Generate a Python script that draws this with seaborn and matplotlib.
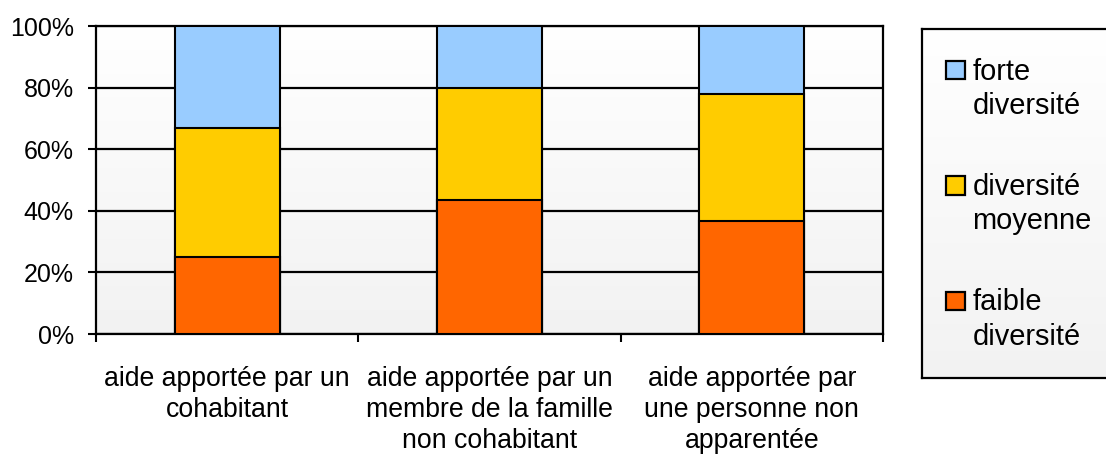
# coding: utf-8
"""
Diversité de l'aide selon le type d'aidant (barres empilées à 100 %)
"""
import numpy as np
import pandas as pd
import matplotlib
matplotlib.use('Agg')
from matplotlib import pyplot as plt
from matplotlib.colors import LinearSegmentedColormap
from matplotlib.patches import Rectangle
import seaborn as sns

# Données
CATEGORIES = ["aide apportée par un\ncohabitant",
              "aide apportée par un\nmembre de la famille\nnon cohabitant",
              "aide apportée par\nune personne non\napparentée"]
NIVEAUX = ["faible diversité", "diversité moyenne", "forte diversité"]
FAIBLE = [25.1, 43.5, 36.6]
MOYENNE = [41.8, 36.5, 41.2]
FORTE = [33.1, 20.0, 22.2]
LEGENDE = {"forte diversité": "forte\ndiversité",
           "diversité moyenne": "diversité\nmoyenne",
           "faible diversité": "faible\ndiversité"}
COULEURS = {"faible diversité": "#ff6600",
            "diversité moyenne": "#ffcc00",
            "forte diversité": "#99ccff"}
YTICKS = [0, 20, 40, 60, 80, 100]

W, H = 1106, 454
FS_XTICK = 19.2
FS_YTICK = 18
FS_LEG = 20.9

sns.set_theme(style='white')
plt.rcParams['font.family'] = ['Liberation Sans', 'DejaVu Sans']
plt.rcParams.update({'text.color': 'black', 'xtick.color': 'black',
                     'ytick.color': 'black', 'axes.labelcolor': 'black'})

df = pd.DataFrame({'categorie': CATEGORIES, NIVEAUX[0]: FAIBLE,
                   NIVEAUX[1]: MOYENNE, NIVEAUX[2]: FORTE})
df_cum = df.set_index('categorie')[NIVEAUX].cumsum(axis=1).reset_index()

fig = plt.figure(figsize=(W / 100, H / 100), dpi=100)
ax = fig.add_axes([96 / W, 1 - 334 / H, (883 - 96) / W, (334 - 26) / H])

degrade = LinearSegmentedColormap.from_list('degrade', ['#ffffff', '#f2f2f2'])
ax.imshow(np.linspace(0, 1, 256).reshape(-1, 1), cmap=degrade, origin='upper',
          extent=(-0.5, 2.5, 0, 100), aspect='auto', zorder=0)

# barres empilées : on trace les cumuls du plus haut au plus bas
for niveau in reversed(NIVEAUX):
    sns.barplot(data=df_cum, x='categorie', y=niveau, order=CATEGORIES,
                color=COULEURS[niveau], saturation=1, width=0.4,
                edgecolor='black', linewidth=1.5, ax=ax, zorder=3)

ax.set_xlim(-0.5, 2.5)
ax.set_ylim(0, 100)
ax.set_xlabel("")
ax.set_ylabel("")
ax.set_yticks(YTICKS)
ax.set_yticklabels(["%d%%" % v for v in YTICKS], fontsize=FS_YTICK)
ax.set_xticks(range(len(CATEGORIES)))
ax.set_xticklabels(CATEGORIES, fontsize=FS_XTICK, linespacing=1.26)
ax.set_xticks([-0.5, 0.5, 1.5, 2.5], minor=True)
ax.yaxis.grid(True, color='black', linewidth=1.6, zorder=1)
ax.set_axisbelow(True)
ax.tick_params(axis='y', left=True, length=6, width=1.5, color='black', pad=10)
ax.tick_params(axis='x', which='major', bottom=True, length=0, pad=23)
ax.tick_params(axis='x', which='minor', bottom=True, length=6, width=1.5, color='black')
for spine in ax.spines.values():
    spine.set_color('black')
    spine.set_linewidth(1.6)

# légende dans un cadre à fond dégradé
lax = fig.add_axes([922 / W, 1 - 378 / H, 200 / W, 349 / H])
lax.set_xlim(0, 200)
lax.set_ylim(349, 0)
lax.imshow(np.linspace(0, 1, 256).reshape(-1, 1), cmap=degrade, origin='upper',
           extent=(0, 200, 349, 0), aspect='auto', zorder=0)
lax.set_xticks([])
lax.set_yticks([])
for spine in lax.spines.values():
    spine.set_color('black')
    spine.set_linewidth(1.6)
for i, niveau in enumerate(reversed(NIVEAUX)):
    y0 = 31.5 + i * 115.5
    lax.add_patch(Rectangle((23.7, y0), 19, 18.5, facecolor=COULEURS[niveau],
                            edgecolor='black', linewidth=1.6, zorder=2))
    lax.text(50.3, y0 - 3, LEGENDE[niveau], fontsize=FS_LEG, va='top', ha='left',
             linespacing=1.29, zorder=2)

fig.savefig('out.png', dpi=100)
plt.close()
